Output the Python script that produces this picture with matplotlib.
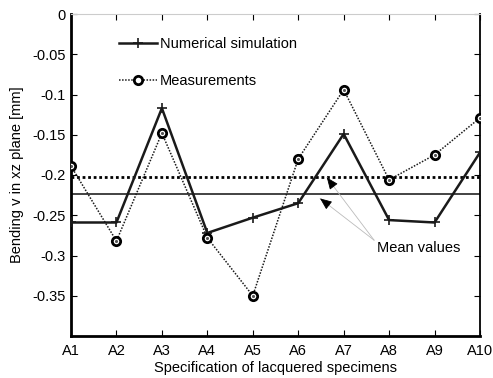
import numpy as np
import matplotlib
matplotlib.use("Agg")
import matplotlib.pyplot as plt

plt.rcParams['font.family'] = ['Liberation Sans', 'DejaVu Sans']

categories = ["A1", "A2", "A3", "A4", "A5", "A6", "A7", "A8", "A9", "A10"]
numerical = [-0.259, -0.259, -0.117, -0.272, -0.253, -0.235, -0.149, -0.256, -0.259, -0.172]
measured = [-0.189, -0.282, -0.148, -0.278, -0.350, -0.180, -0.094, -0.206, -0.175, -0.129]
yticks = [0, -0.05, -0.1, -0.15, -0.2, -0.25, -0.3, -0.35]
ytick_labels = ["0", "-0.05", "-0.1", "-0.15", "-0.2", "-0.25", "-0.3", "-0.35"]

x = np.arange(1, len(categories) + 1)
mean_num = np.mean(numerical)
mean_meas = np.mean(measured)

fig = plt.figure(figsize=(4.93, 3.78), dpi=100)
ax = fig.add_axes([71/493, 1 - 336/378, (480-71)/493, (336-14)/378])

ax.axhline(mean_meas, color='black', lw=2.0, ls=(0, (1, 1)), zorder=2)
ax.axhline(mean_num, color='#222222', lw=1.2, ls='-', zorder=2)

ax.plot(x, numerical, color='#1a1a1a', lw=1.8, marker='+', ms=7, mew=1.2,
        label='Numerical simulation', zorder=3)
ax.plot(x, measured, color='#1a1a1a', lw=1.1, ls=(0, (1, 1)), marker='o', ms=6,
        mfc='white', mec='black', mew=2.0, label='Measurements', zorder=3)
ax.plot(x, measured, ls='none', marker='.', ms=2.5, color='#555555', zorder=4)

ax.set_xlim(1, 10)
ax.set_ylim(-0.4, 0)
ax.set_xticks(x)
ax.set_xticklabels(categories)
ax.set_yticks(yticks)
ax.set_yticklabels(ytick_labels)
ax.tick_params(direction='in', length=4, width=0.8, labelsize=10.5,
               top=True, right=True, pad=6, colors='black')
ax.tick_params(axis='y', pad=4)

for s in ['left', 'bottom']:
    ax.spines[s].set_linewidth(2.0)
ax.spines['right'].set_linewidth(1.3)
ax.spines['top'].set_linewidth(0.8)
ax.spines['top'].set_color('#cccccc')

ax.set_xlabel('Specification of lacquered specimens', fontsize=10.5, labelpad=2)
ax.set_ylabel('Bending v in xz plane [mm]', fontsize=10.5, labelpad=6)

leg = ax.legend(loc='upper left', bbox_to_anchor=(0.085, 0.97), frameon=False,
                fontsize=10.5, handlelength=2.6, handletextpad=0.2,
                labelspacing=1.6)

start = (7.67, -0.281)
for tx, ty in [(6.63, mean_meas), (6.48, mean_num - 0.006)]:
    ax.annotate('', xy=(tx, ty), xytext=start,
                arrowprops=dict(arrowstyle='-', color='#bbbbbb', lw=0.6,
                                shrinkA=0, shrinkB=0))
    # black head
    hx = tx + (start[0] - tx) * 0.12
    hy = ty + (start[1] - ty) * 0.12
    ax.annotate('', xy=(tx, ty), xytext=(hx, hy),
                arrowprops=dict(arrowstyle='-|>,head_length=0.6,head_width=0.25',
                                color='black', lw=0.6, mutation_scale=12,
                                shrinkA=0, shrinkB=0))
ax.text(7.73, -0.291, 'Mean values', fontsize=10.5, va='center', ha='left')

fig.savefig('out.png', dpi=100)
